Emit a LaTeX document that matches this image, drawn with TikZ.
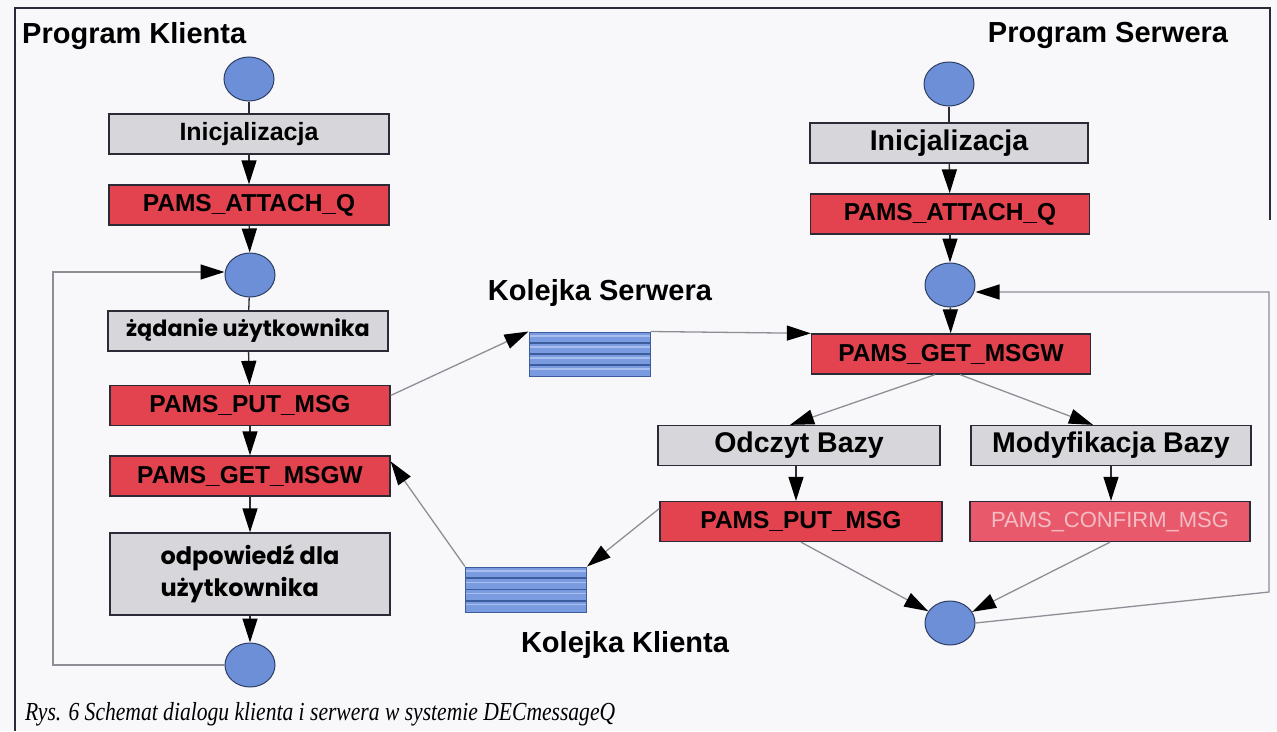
\documentclass[tikz,border=0pt]{standalone}
\usepackage{fontspec}
\setmainfont{Liberation Sans}
\newfontfamily\geo{Poppins}
\newfontfamily\capfont{Liberation Serif}[FakeStretch=0.83]
\usetikzlibrary{arrows.meta,shapes.geometric,calc}
\definecolor{paper}{HTML}{F8F8FA}
\definecolor{boxgray}{HTML}{D6D6DB}
\definecolor{boxred}{HTML}{E2434F}
\definecolor{confred}{HTML}{E85A6B}
\definecolor{conftext}{HTML}{F4BCC4}
\definecolor{circblue}{HTML}{6D8FD8}
\definecolor{circedge}{HTML}{2E3F66}
\definecolor{qblue}{HTML}{7A9BE0}
\definecolor{qdark}{HTML}{3D5C9C}
\definecolor{qlight}{HTML}{A9C0EE}
\definecolor{edge}{HTML}{2B2B38}
\definecolor{conn}{HTML}{8E8E96}
\tikzset{
  gbox/.style={draw=edge, line width=1.3pt, fill=boxgray, minimum width=280pt, minimum height=40pt, inner sep=0pt, font=\fontsize{25}{27}\selectfont\bfseries},
  rbox/.style={gbox, fill=boxred, font=\fontsize{24.5}{27}\selectfont\bfseries},
  circnode/.style={ellipse, draw=circedge, fill=circblue, line width=1pt, minimum width=50pt, minimum height=44pt, inner sep=0pt},
  queuebox/.style={draw=qdark, line width=1pt, fill=qblue, minimum width=121pt, minimum height=44pt, inner sep=0pt,
    path picture={
      \foreach \k in {1,2,3}{
        \draw[qdark, line width=1.8pt]
          ($(path picture bounding box.north west)!\k/4!(path picture bounding box.south west)$) --
          ($(path picture bounding box.north east)!\k/4!(path picture bounding box.south east)$);
      }
      \foreach \k in {0.09,0.34,0.59,0.84}{
        \draw[qlight, line width=1.2pt]
          ($(path picture bounding box.north west)!\k!(path picture bounding box.south west)$) --
          ($(path picture bounding box.north east)!\k!(path picture bounding box.south east)$);
      }
    }},
  title/.style={font=\fontsize{29}{31}\selectfont\bfseries, inner sep=0pt},
  plain/.style={draw=edge, line width=1.3pt},
  arr/.style={draw=edge, line width=1.3pt, -{Triangle[length=24pt,width=15pt,color=black]}},
  thinarr/.style={draw=conn, line width=1.3pt, -{Triangle[length=24pt,width=15pt,color=black]}},
  thinline/.style={draw=conn, line width=1.3pt}
}
\begin{document}
\begin{tikzpicture}[x=1pt,y=-1pt]
\fill[paper] (0,0) rectangle (1277,731);
\useasboundingbox (0,0) rectangle (1277,731);
% frame
\draw[edge, line width=1.5pt] (15,731) -- (15,8) -- (1270,8) -- (1270,220);

% titles
\node[title, anchor=west] (tk) at (22,36) {Program Klienta};
\node[title] (ts) at (1108,35) {Program Serwera};

% client column
\node[circnode] (c1) at (249,79) {};
\node[gbox] (ci) at (249,134) {Inicjalizacja};
\node[rbox] (ca) at (249,205) {PAMS\_ATTACH\_Q};
\node[circnode] (c2) at (250,275) {};
\node[gbox, font=\geo\fontsize{22.3}{24}\selectfont\bfseries] (cz) at (248,331) {żądanie użytkownika};
\node[rbox] (cp) at (250,405.5) {PAMS\_PUT\_MSG};
\node[rbox] (cg) at (250,476) {PAMS\_GET\_MSGW};
\node[gbox, minimum height=82pt, align=left, font=\geo\fontsize{24}{32}\selectfont\bfseries] (co) at (250,574) {odpowiedź dla\\użytkownika};
\node[circnode] (c3) at (250,665) {};

\draw[plain] (c1) -- (ci);
\draw[arr] (ci) -- (ca);
\draw[arr] (ca) -- (c2);
\draw[plain] (c2) -- (cz);
\draw[arr] (cz) -- (cp);
\draw[arr] (cp) -- (cg);
\draw[arr] (cg) -- (co);
\draw[arr] (co) -- (c3);
\coordinate (lc) at (53,665);
\draw[thinarr] (c3.west) -- (lc) |- ([yshift=3pt]c2.west);

% queues
\node[queuebox] (qs) at (589.5,354) {};
\node[title] (qsl) at (600,293) {Kolejka Serwera};
\node[queuebox, minimum height=45pt] (qk) at (526,589.5) {};
\node[title] (qkl) at (625,645) {Kolejka Klienta};

% server column
\node[circnode] (s1) at (949,84) {};
\node[gbox, minimum width=278pt, font=\fontsize{28.5}{30}\selectfont\bfseries] (si) at (949,143) {Inicjalizacja};
\node[rbox, minimum width=279pt] (sa) at (950,214) {PAMS\_ATTACH\_Q};
\node[circnode] (s2) at (950,285) {};
\node[rbox, minimum width=279pt] (sg) at (951,354) {PAMS\_GET\_MSGW};
\node[gbox, minimum width=282pt, font=\fontsize{28.5}{30}\selectfont\bfseries] (sod) at (799,445.5) {Odczyt Bazy};
\node[gbox, font=\fontsize{28.5}{30}\selectfont\bfseries] (smod) at (1111,445.5) {Modyfikacja Bazy};
\node[rbox, minimum width=282pt] (sp) at (801,521.5) {PAMS\_PUT\_MSG};
\node[rbox, fill=confred, text=conftext, font=\fontsize{22}{24}\selectfont] (sc) at (1110,521.5) {PAMS\_CONFIRM\_MSG};
\node[circnode] (s3) at (950,623) {};

\draw[plain] (s1) -- (si);
\draw[arr] (si) -- (sa);
\draw[arr] (sa) -- (s2);
\draw[arr] (s2) -- (sg);
\draw[thinarr] ([xshift=-16pt]sg.south) -- ([xshift=-9pt]sod.north);
\draw[thinarr] ([xshift=9pt]sg.south) -- ([xshift=-18pt]smod.north);
\draw[arr] ([xshift=-3pt]sod.south) -- ([xshift=-5pt]sp.north);
\draw[arr] (smod.south) -- ([xshift=1pt]sc.north);
\draw[thinarr] (sp.south) -- (s3);
\draw[thinarr] (sc.south) -- (s3);
\coordinate (rb) at (1269,592);
\draw[thinarr] (s3.east) -- (rb) |- ([yshift=-7pt]s2.east);

% message flows
\draw[thinarr] ([yshift=10pt]cp.east) -- (qs.north west);
\draw[thinarr] (qs.north east) -- (sg.north west);
\draw[thinarr] ([yshift=13pt]sp.west) -- (qk.north east);
\draw[thinarr] (qk.north west) -- ([yshift=-6pt]cg.north east);

% caption
\node[anchor=base west, inner sep=0pt, font=\capfont\itshape\fontsize{26}{28}\selectfont] (cap) at (25,720) {Rys. 6 Schemat dialogu klienta i serwera w systemie DECmessageQ};
\end{tikzpicture}
\end{document}
